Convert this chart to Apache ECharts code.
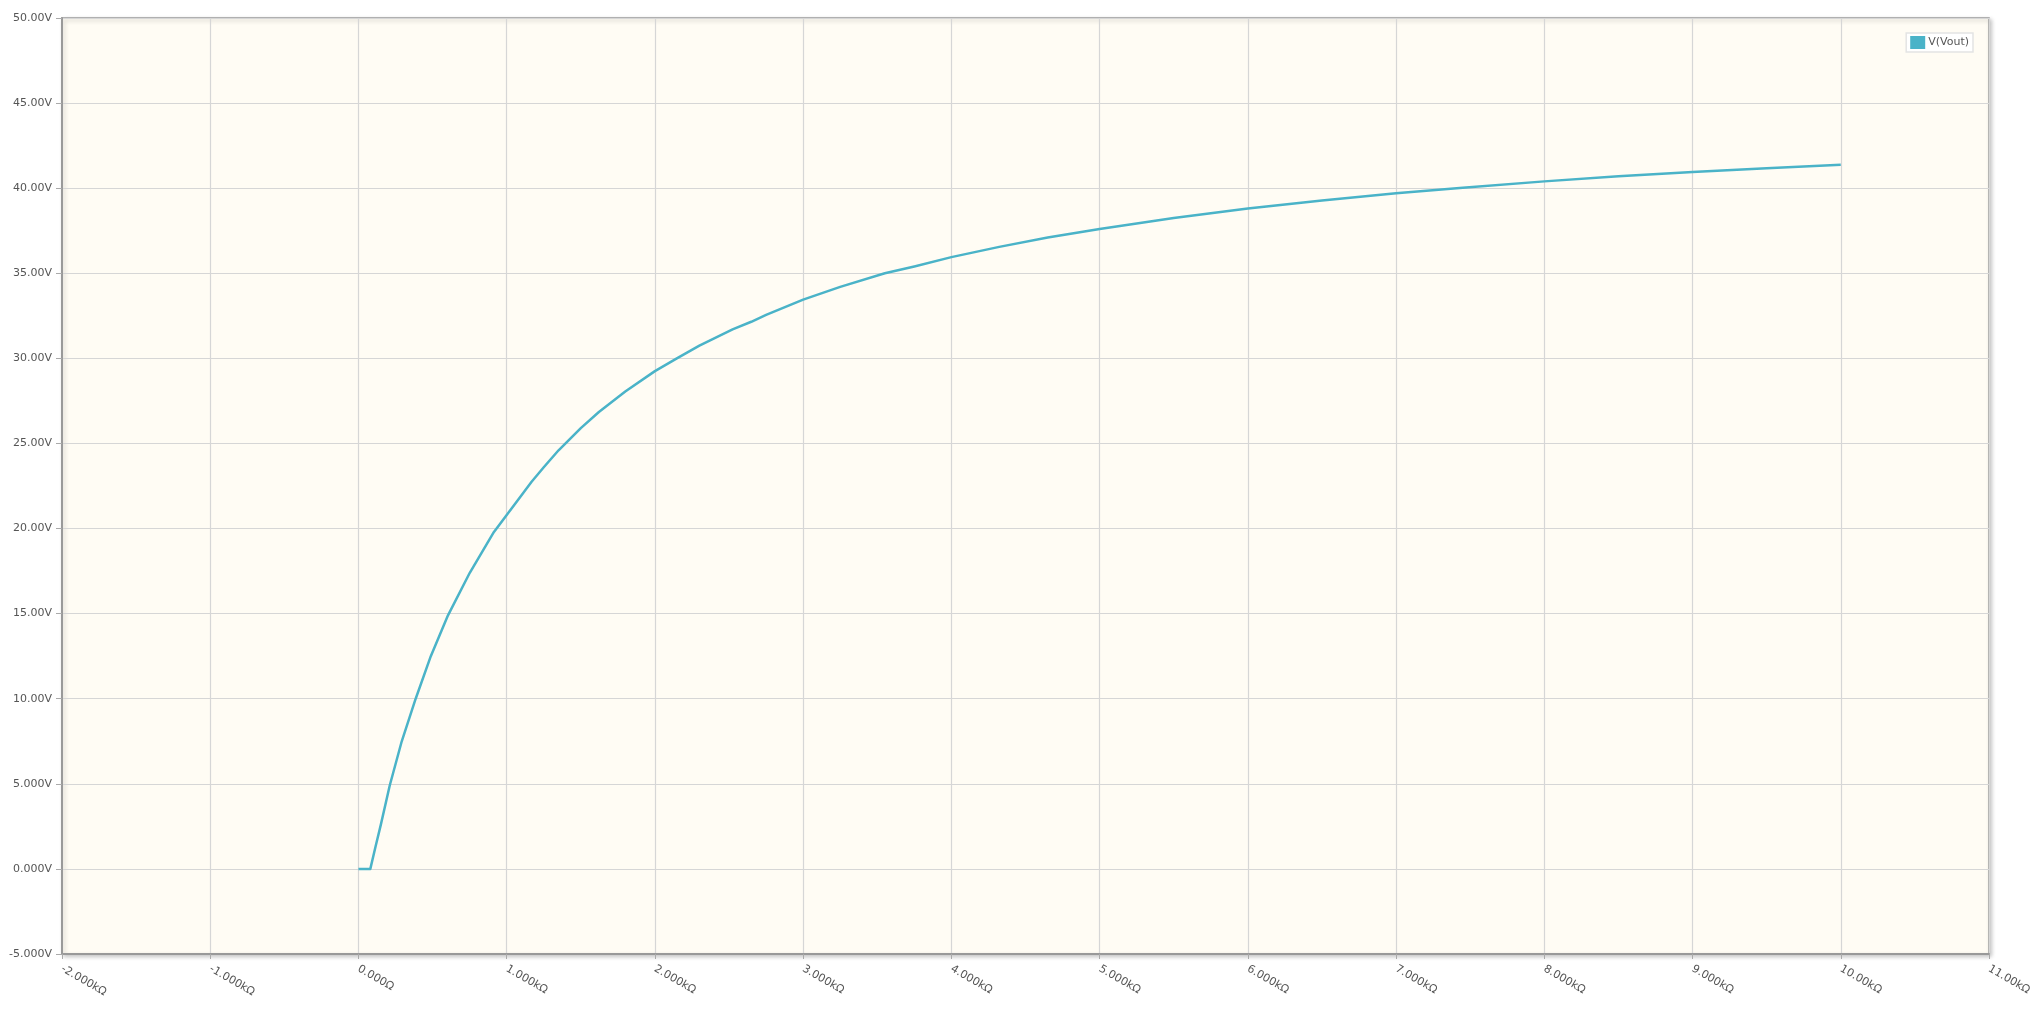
<!DOCTYPE html>
<html>
<head>
<meta charset="utf-8">
<script src="https://cdn.jsdelivr.net/npm/echarts@6/dist/echarts.min.js"></script>
<style>
html,body{margin:0;padding:0;background:#ffffff;}
#chart{width:2036px;height:1011px;}
</style>
</head>
<body>
<div id="chart"></div>
<script>
// Sweep: load resistance (ohm) vs output voltage (V)
var resistance = [0, 80, 115, 151, 211, 292, 386, 488, 604, 751, 914, 1000, 1100, 1168, 1250, 1350, 1500, 1622, 1800, 2000, 2148, 2300, 2524, 2650, 2750, 3000, 3250, 3551, 3750, 4000, 4323, 4650, 5000, 5500, 6000, 6500, 7000, 7450, 8000, 8500, 9000, 9500, 10000];
var vout = [0, 0, 1.3, 2.6, 4.9, 7.5, 10.0, 12.5, 14.9, 17.4, 19.8, 20.8, 21.95, 22.75, 23.6, 24.6, 25.9, 26.85, 28.05, 29.25, 30.0, 30.75, 31.7, 32.15, 32.55, 33.45, 34.2, 35.0, 35.4, 35.95, 36.55, 37.1, 37.6, 38.25, 38.8, 39.27, 39.7, 40.02, 40.4, 40.7, 40.95, 41.17, 41.38];
var seriesName = 'V(Vout)';

var xTickValues = [-2000, -1000, 0, 1000, 2000, 3000, 4000, 5000, 6000, 7000, 8000, 9000, 10000, 11000];
var xTickLabels = ['-2.000kΩ', '-1.000kΩ', '0.000Ω', '1.000kΩ', '2.000kΩ', '3.000kΩ', '4.000kΩ', '5.000kΩ', '6.000kΩ', '7.000kΩ', '8.000kΩ', '9.000kΩ', '10.00kΩ', '11.00kΩ'];
var yTickValues = [-5, 0, 5, 10, 15, 20, 25, 30, 35, 40, 45, 50];
var yTickLabels = ['-5.000V', '0.000V', '5.000V', '10.00V', '15.00V', '20.00V', '25.00V', '30.00V', '35.00V', '40.00V', '45.00V', '50.00V'];

function lookup(vals, labels, v) {
  for (var i = 0; i < vals.length; i++) {
    if (Math.abs(vals[i] - v) < 1e-6) return labels[i];
  }
  return '';
}

var points = resistance.map(function (r, i) { return [r, vout[i]]; });

var chart = echarts.init(document.getElementById('chart'), null, {renderer: 'canvas'});
chart.setOption({
  backgroundColor: '#ffffff',
  animation: false,
  textStyle: {fontFamily: 'DejaVu Sans'},
  grid: {
    left: 62, top: 18, right: 47, bottom: 57,
    show: true,
    backgroundColor: '#fffcf4',
    borderColor: '#9a9a9a',
    borderWidth: 1.5,
    shadowColor: 'rgba(0,0,0,0.22)',
    shadowBlur: 4,
    shadowOffsetX: 2,
    shadowOffsetY: 2
  },
  legend: {
    right: 63, top: 33,
    itemWidth: 15, itemHeight: 13,
    itemGap: 4,
    padding: [3, 4, 3, 4],
    backgroundColor: '#ffffff',
    borderColor: '#e4e4e4',
    borderWidth: 1.5,
    borderRadius: 0,
    icon: 'rect',
    textStyle: {color: '#555', fontSize: 11, fontFamily: 'DejaVu Sans', padding: [0, 0, 6, -2]},
    data: [seriesName]
  },
  xAxis: {
    type: 'value',
    min: -2000, max: 11000, interval: 1000,
    axisLine: {show: true, onZero: false, lineStyle: {color: '#999', width: 2}},
    axisTick: {show: true, length: 5, lineStyle: {color: '#aaa', width: 1}},
    splitLine: {show: true, lineStyle: {color: '#d6d6d6', width: 1.2}},
    axisLabel: {
      rotate: -30,
      margin: 14,
      color: '#555',
      fontSize: 11,
      fontFamily: 'DejaVu Sans',
      formatter: function (v) { return lookup(xTickValues, xTickLabels, v); }
    }
  },
  yAxis: {
    type: 'value',
    min: -5, max: 50, interval: 5,
    axisLine: {show: true, onZero: false, lineStyle: {color: '#999', width: 2}},
    axisTick: {show: true, length: 6, lineStyle: {color: '#aaa', width: 1}},
    splitLine: {show: true, lineStyle: {color: '#d6d6d6', width: 1.2}},
    axisLabel: {
      margin: 10,
      color: '#555',
      fontSize: 11,
      fontFamily: 'DejaVu Sans',
      padding: [0, 0, 9, 0],
      formatter: function (v) { return lookup(yTickValues, yTickLabels, v); }
    }
  },
  series: [{
    name: seriesName,
    type: 'line',
    data: points,
    showSymbol: false,
    symbol: 'none',
    smooth: false,
    color: '#4ab3c8',
    lineStyle: {color: '#4ab3c8', width: 2.5, join: 'round'}
  }]
});
</script>
</body>
</html>
